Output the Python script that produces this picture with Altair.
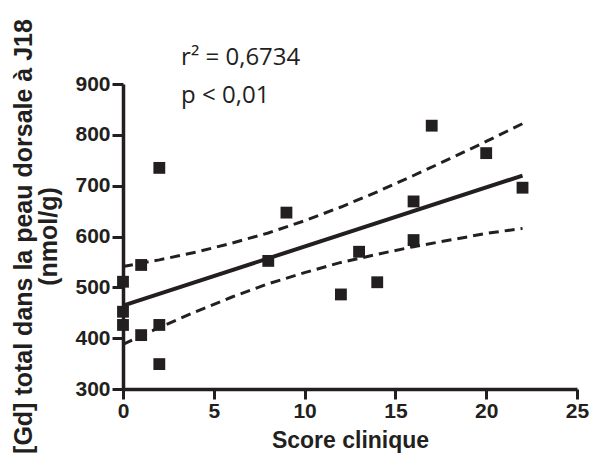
import altair as alt
import pandas as pd

INK = "#231f20"

# Data points
score = [0, 0, 0, 1, 1, 2, 2, 2, 8, 9, 12, 13, 14, 16, 16, 17, 20, 22]
gd = [511, 452, 426, 406, 544, 426, 349, 735, 552, 647, 486, 570, 510, 593, 669, 818, 764, 696]

# 95% confidence band (dashed curves)
band_x = [0, 2, 4, 6, 8, 10, 12, 14, 16, 18, 20, 22]
band_upper = [541, 554, 569, 587, 607, 631, 658, 688, 720, 753, 787, 822]
band_lower = [388, 421, 452, 481, 507, 529, 549, 565, 580, 593, 606, 616]

x_ticks = [0, 5, 10, 15, 20, 25]
y_ticks = [300, 400, 500, 600, 700, 800, 900]

ann_x = [3.2, 3.2]
ann_y = [937, 862]
ann_text = ["r² = 0,6734", "p < 0,01"]

pts = pd.DataFrame({"score": score, "gd": gd})
band = pd.DataFrame({
    "score": band_x + band_x,
    "gd": band_upper + band_lower,
    "bound": ["upper"] * len(band_x) + ["lower"] * len(band_x),
})
ann = pd.DataFrame({"score": ann_x, "gd": ann_y, "label": ann_text})

x_enc = alt.X(
    "score:Q",
    scale=alt.Scale(domain=[0, 25], nice=False, zero=False),
    axis=alt.Axis(
        values=x_ticks,
        title="Score clinique",
        titleFontSize=23,
        titleY=58,
        titleBaseline="alphabetic",
        labelPadding=1,
        tickSize=10,
    ),
)
y_enc = alt.Y(
    "gd:Q",
    scale=alt.Scale(domain=[300, 900], nice=False, zero=False),
    axis=alt.Axis(
        values=y_ticks,
        title=["[Gd] total dans la peau dorsale à J18", "(nmol/g)"],
        titleFontSize=25,
        titleLineHeight=25,
        titleX=-100,
        titleY=152,
        titleBaseline="middle",
        titleAngle=-90,
        labelPadding=2,
        tickSize=11,
    ),
)

band_layer = alt.Chart(band).mark_line(
    color=INK, strokeWidth=3, strokeDash=[10, 6]
).encode(x=x_enc, y=y_enc, detail="bound:N")

reg_layer = alt.Chart(pts).transform_regression(
    "score", "gd", extent=[0, 22]
).mark_line(color=INK, strokeWidth=4).encode(x=x_enc, y=y_enc)

pt_layer = alt.Chart(pts).mark_point(
    shape="square", filled=True, size=140, color=INK, opacity=1
).encode(x=x_enc, y=y_enc)

txt_layer = alt.Chart(ann).mark_text(
    align="left", baseline="alphabetic", font="Open Sans", fontSize=24, color=INK
).encode(x=x_enc, y=y_enc, text="label:N")

chart = alt.layer(band_layer, reg_layer, pt_layer, txt_layer).properties(
    width=454,
    height=305,
    autosize=alt.AutoSizeParams(type="none"),
    padding={"left": 115, "top": 76, "right": 12, "bottom": 64},
).configure_view(stroke=None).configure_axis(
    grid=False,
    domainColor=INK,
    domainWidth=3.5,
    tickColor=INK,
    tickWidth=3,
    labelFont="Liberation Sans",
    labelFontSize=21,
    labelFontWeight="bold",
    labelColor=INK,
    labelFlush=False,
    labelOverlap=False,
    titleFont="Liberation Sans",
    titleFontWeight="bold",
    titleColor=INK,
)

chart.save("out.html", embed_options={"renderer": "svg", "actions": False})
